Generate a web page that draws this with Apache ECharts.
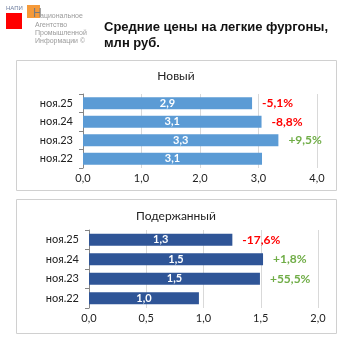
<!DOCTYPE html>
<html><head><meta charset="utf-8">
<script src="https://cdn.jsdelivr.net/npm/echarts@6/dist/echarts.min.js"></script>
<style>html,body{margin:0;padding:0;background:#fff}#c{width:353px;height:353px}</style>
</head><body><div id="c"></div>
<script>
const categories = ['ноя.22','ноя.23','ноя.24','ноя.25'];
const newValues = [3.06, 3.34, 3.052, 2.89];
const newChanges = [null, '+9,5%', '-8,8%', '-5,1%'];
const usedValues = [0.96, 1.493, 1.52, 1.252];
const usedChanges = [null, '+55,5%', '+1,8%', '-17,6%'];
const newTicks = {min: 0, max: 4, interval: 1};
const usedTicks = {min: 0, max: 2, interval: 0.5};
const titleText = 'Средние цены на легкие фургоны,\nмлн руб.';
const panelTitles = ['Новый', 'Подержанный'];

const FONT = 'Lato, "Liberation Sans", sans-serif';
const chart = echarts.init(document.getElementById('c'), null, {renderer: 'canvas'});
const fmt = v => (Math.round(v * 10 + 1e-6) / 10).toFixed(1).replace('.', ',');
const pctColor = s => s && s[0] === '-' ? '#FF0000' : '#70AD47';

function pctData(vals, ch) {
  return vals.map((v, i) => ({
    value: v,
    label: ch[i] ? {show: true, formatter: ch[i], color: pctColor(ch[i])} : {show: false}
  }));
}

function xAxis(gi, t) {
  return {
    type: 'value', gridIndex: gi, min: t.min, max: t.max, interval: t.interval,
    axisLine: {show: false}, axisTick: {show: false},
    axisLabel: {formatter: fmt, color: '#222', fontSize: 11, fontFamily: FONT, margin: 5},
    splitLine: {lineStyle: {color: '#D9D9D9', width: 1}}
  };
}
function yAxis(gi) {
  return {
    type: 'category', gridIndex: gi, data: categories,
    axisLine: {show: true, lineStyle: {color: '#868686'}},
    axisTick: {show: true, length: 4, lineStyle: {color: '#868686'}},
    axisLabel: {color: '#222', fontSize: 11, fontFamily: FONT, margin: 10}
  };
}
function series(gi, vals, ch, color) {
  return [
    {type: 'bar', xAxisIndex: gi, yAxisIndex: gi, data: vals, barWidth: 12,
     itemStyle: {color: color},
     label: {show: true, position: 'inside', formatter: p => fmt(p.value), color: '#fff',
             fontWeight: 'bold', fontSize: 11, fontFamily: FONT}},
    {type: 'bar', xAxisIndex: gi, yAxisIndex: gi, data: pctData(vals, ch), barWidth: 12,
     barGap: '-100%', itemStyle: {color: 'rgba(0,0,0,0)'}, silent: true,
     label: {position: 'right', distance: 10, fontWeight: 'bold', fontSize: 12, fontFamily: FONT}}
  ];
}

chart.setOption({
  animation: false,
  grid: [
    {left: 83, right: 36, top: 94, height: 74},
    {left: 89, right: 35, top: 230, height: 78}
  ],
  xAxis: [xAxis(0, newTicks), xAxis(1, usedTicks)],
  yAxis: [yAxis(0), yAxis(1)],
  series: [...series(0, newValues, newChanges, '#5B9BD5'), ...series(1, usedValues, usedChanges, '#2F5597')],
  graphic: [
    {type: 'rect', shape: {x: 16.5, y: 60.5, width: 320, height: 130}, style: {fill: 'none', stroke: '#D0D0D0', lineWidth: 1}},
    {type: 'rect', shape: {x: 16.5, y: 199.5, width: 320, height: 134}, style: {fill: 'none', stroke: '#D0D0D0', lineWidth: 1}},
    {type: 'text', x: 176, y: 76, style: {text: panelTitles[0], fontSize: 12, fontFamily: FONT, fill: '#222', align: 'center', verticalAlign: 'middle'}},
    {type: 'text', x: 176, y: 216, style: {text: panelTitles[1], fontSize: 12, fontFamily: FONT, fill: '#222', align: 'center', verticalAlign: 'middle'}},
    {type: 'text', x: 104, y: 19, style: {text: titleText, fontSize: 13, fontWeight: 'bold', fontFamily: '"Liberation Sans", Arial, sans-serif', fill: '#111', lineHeight: 16}},
    {type: 'rect', shape: {x: 6, y: 13, width: 16, height: 16}, style: {fill: '#FF0000'}},
    {type: 'rect', shape: {x: 27, y: 5, width: 13, height: 13}, style: {fill: '#F59A3A'}},
    {type: 'text', x: 6, y: 5, style: {text: 'НАПИ', fontSize: 6, fontFamily: '"Liberation Sans Narrow", "Liberation Sans", sans-serif', fill: '#6F7FA0'}},
    {type: 'text', x: 33, y: 8, style: {text: 'Н', fontSize: 12, fontFamily: '"Liberation Sans Narrow", "Liberation Sans", sans-serif', fill: '#7A7A7A'}},
    {type: 'text', x: 40, y: 13, style: {text: 'ациональное', fontSize: 7, fontFamily: '"Liberation Sans Narrow", "Liberation Sans", sans-serif', fill: '#9A9A9A'}},
    {type: 'text', x: 35, y: 21, style: {text: 'Агентство\nПромышленной\nИнформации ©', fontSize: 7, lineHeight: 8, fontFamily: '"Liberation Sans Narrow", "Liberation Sans", sans-serif', fill: '#9A9A9A'}}
  ]
});
</script></body></html>
